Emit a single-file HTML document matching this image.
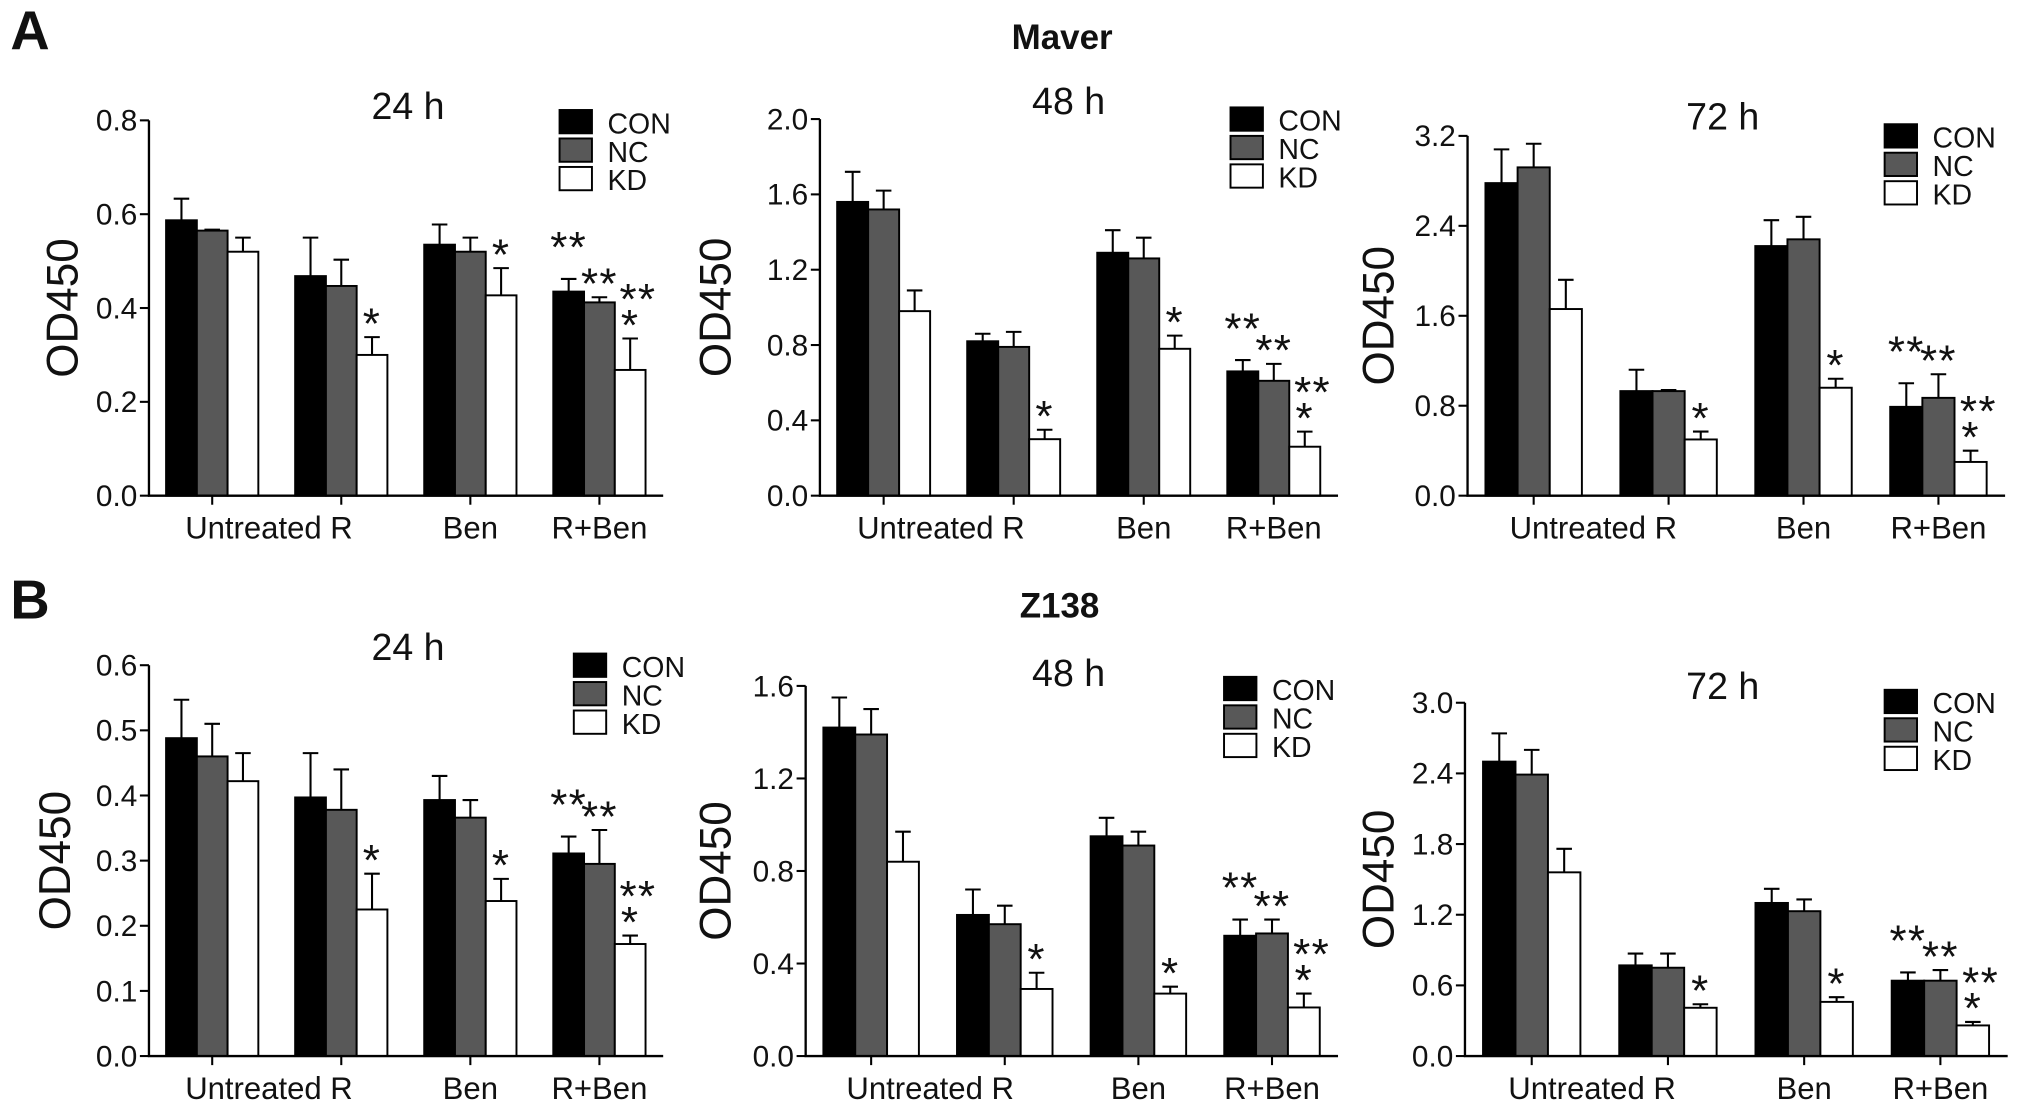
<!DOCTYPE html>
<html><head><meta charset="utf-8">
<style>
html,body{margin:0;padding:0;background:#fff;}
svg{display:block;}
text{font-family:"Liberation Sans",Arial,sans-serif;fill:#111;}
</style></head>
<body>
<svg id="fig" width="2031" height="1113" viewBox="0 0 1568 860" preserveAspectRatio="none" xmlns="http://www.w3.org/2000/svg">
<text x="8" y="38" font-size="42" font-weight="bold">A</text>
<text x="8" y="478" font-size="42" font-weight="bold">B</text>
<text x="820" y="38" font-size="27" font-weight="bold" text-anchor="middle">Maver</text>
<text x="818" y="477" font-size="27" font-weight="bold" text-anchor="middle">Z138</text>
</svg>
<script>
const categories = ["Untreated","R","Ben","R+Ben"];
const seriesNames = ["CON","NC","KD"];
const a24Vals = [[0.587,0.565,0.52],[0.468,0.447,0.30],[0.535,0.52,0.427],[0.435,0.412,0.268]];
const a24Err  = [[0.633,0.567,0.55],[0.55,0.503,0.338],[0.578,0.55,0.485],[0.462,0.423,0.335]];
const a48Vals = [[1.56,1.52,0.98],[0.82,0.79,0.30],[1.29,1.26,0.78],[0.66,0.61,0.26]];
const a48Err  = [[1.72,1.62,1.09],[0.86,0.87,0.35],[1.41,1.37,0.85],[0.72,0.70,0.34]];
const a72Vals = [[2.78,2.92,1.66],[0.93,0.93,0.50],[2.22,2.28,0.96],[0.79,0.87,0.30]];
const a72Err  = [[3.08,3.13,1.92],[1.12,0.94,0.57],[2.45,2.48,1.04],[1.00,1.08,0.40]];
const b24Vals = [[0.488,0.46,0.422],[0.397,0.378,0.225],[0.393,0.366,0.238],[0.311,0.295,0.172]];
const b24Err  = [[0.547,0.51,0.465],[0.465,0.44,0.28],[0.43,0.393,0.272],[0.337,0.347,0.185]];
const b48Vals = [[1.42,1.39,0.84],[0.61,0.57,0.29],[0.95,0.91,0.27],[0.52,0.53,0.21]];
const b48Err  = [[1.55,1.50,0.97],[0.72,0.65,0.36],[1.03,0.97,0.30],[0.59,0.59,0.27]];
const b72Vals = [[2.5,2.39,1.56],[0.77,0.75,0.41],[1.3,1.23,0.46],[0.64,0.64,0.26]];
const b72Err  = [[2.74,2.6,1.76],[0.87,0.87,0.44],[1.42,1.33,0.50],[0.71,0.73,0.29]];
const a24Ticks = ["0.0","0.2","0.4","0.6","0.8"];
const a48Ticks = ["0.0","0.4","0.8","1.2","1.6","2.0"];
const a72Ticks = ["0.0","0.8","1.6","2.4","3.2"];
const b24Ticks = ["0.0","0.1","0.2","0.3","0.4","0.5","0.6"];
const b48Ticks = ["0.0","0.4","0.8","1.2","1.6"];
const b72Ticks = ["0.0","0.6","1.2","1.8","2.4","3.0"];
const stars = [[1,2,"*"],[2,2,"*"],[3,0,"**"],[3,1,"**"],[3,2,"**\n*"]];

const NS="http://www.w3.org/2000/svg";
const svg=document.getElementById('fig');
function mk(tag,attrs,parent){const e=document.createElementNS(NS,tag);for(const k in attrs)e.setAttribute(k,attrs[k]);(parent||svg).appendChild(e);return e;}

const panels=[
 {id:"a24",title:"24 h",vals:a24Vals,err:a24Err,ticks:a24Ticks,ax:115,ay0:383,ayTop:93,axEnd:512,tx:315,ty:92,lx:432,ly:85,ytx:48},
 {id:"a48",title:"48 h",vals:a48Vals,err:a48Err,ticks:a48Ticks,ax:633,ay0:383,ayTop:92,axEnd:1033,tx:825,ty:88,lx:950,ly:83,ytx:552},
 {id:"a72",title:"72 h",vals:a72Vals,err:a72Err,ticks:a72Ticks,ax:1133,ay0:383,ayTop:105,axEnd:1548,tx:1330,ty:100,lx:1455,ly:96,ytx:1064},
 {id:"b24",title:"24 h",vals:b24Vals,err:b24Err,ticks:b24Ticks,ax:115,ay0:816,ayTop:514,axEnd:512,tx:315,ty:510,lx:443,ly:505,ytx:42},
 {id:"b48",title:"48 h",vals:b48Vals,err:b48Err,ticks:b48Ticks,ax:622,ay0:816,ayTop:530,axEnd:1033,tx:825,ty:530,lx:945,ly:523,ytx:552},
 {id:"b72",title:"72 h",vals:b72Vals,err:b72Err,ticks:b72Ticks,ax:1131,ay0:816,ayTop:543,axEnd:1550,tx:1330,ty:540,lx:1455,ly:533,ytx:1064}
];
const fills=["#000","#585858","#fff"];
panels.forEach(p=>{
  const g=mk('g',{});
  
  
  const yMax=parseFloat(p.ticks[p.ticks.length-1]);
  const y=v=>p.ay0-(v/yMax)*(p.ay0-p.ayTop);
  const w=p.axEnd-p.ax;
  const gx=i=>p.ax+w*(0.123+i*0.251);
  const bw=w*0.0598;
  const t=mk('text',{x:p.tx,y:p.ty,'font-size':29,'text-anchor':'middle'},g);t.textContent=p.title;
  
  
  const cy=(p.ay0+p.ayTop)/2;
  const yt=mk('text',{x:p.ytx,y:cy,'font-size':34,'text-anchor':'middle',transform:`rotate(-90 ${p.ytx} ${cy})`,dy:12},g);yt.textContent="OD450";
  
  
  p.vals.forEach((grp,gi)=>{
    grp.forEach((v,si)=>{
      const x=gx(gi)+(si-1)*bw-bw/2;
      const r=mk('rect',{x:x,y:y(v),width:bw,height:p.ay0-y(v),fill:fills[si],stroke:'#000','stroke-width':1.5},g);
      
      
      const cx=x+bw/2;
      const e=mk('path',{d:`M${cx} ${y(v)}V${y(p.err[gi][si])}M${cx-6} ${y(p.err[gi][si])}H${cx+6}`,stroke:'#000','stroke-width':1.6,fill:'none'},g);
      
      
    });
  });
  stars.forEach(s=>{
    const cx=gx(s[0])+(s[1]-1)*bw;
    const top=y(p.err[s[0]][s[1]]);
    const lines=s[2].split("\n");
    const extra=(s[1]==0)?14:0;
    lines.forEach((ln,li)=>{
      const st=mk('text',{x:cx+(s[1]==2&&lines.length>1&&li==0?6:0),y:top+1-extra-(lines.length-1-li)*20,'font-size':34,'text-anchor':'middle','letter-spacing':'1'},g);
      st.textContent=ln;
      
      
    });
  });
  const axl=mk('path',{d:`M${p.ax} ${p.ayTop}V${p.ay0}H${p.axEnd}`,stroke:'#000','stroke-width':1.8,fill:'none'},g);
  
  
  p.ticks.forEach(tk=>{
    const yy=y(parseFloat(tk));
    mk('path',{d:`M${p.ax-7} ${yy}H${p.ax}`,stroke:'#000','stroke-width':1.6},g);
    const tl=mk('text',{x:p.ax-9,y:yy+8,'font-size':23,'text-anchor':'end'},g);tl.textContent=tk;
    
    
  });
  categories.forEach((c,gi)=>{
    mk('path',{d:`M${gx(gi)} ${p.ay0}V${p.ay0+7}`,stroke:'#000','stroke-width':1.6},g);
  });
  const xl=[["Untreated R",(gx(0)+gx(1))/2-6],["Ben",gx(2)],["R+Ben",gx(3)]];
  xl.forEach(l=>{
    const tl=mk('text',{x:l[1],y:p.ay0+33,'font-size':24,'text-anchor':'middle'},g);tl.textContent=l[0];
    
    
  });
  seriesNames.forEach((n,si)=>{
    const r=mk('rect',{x:p.lx,y:p.ly+si*22,width:25,height:18,fill:fills[si],stroke:'#000','stroke-width':1.5},g);
    
    
    const lt=mk('text',{x:p.lx+37,y:p.ly+si*22+18,'font-size':22},g);lt.textContent=n;
    
    
  });
});
</script>
</body></html>
